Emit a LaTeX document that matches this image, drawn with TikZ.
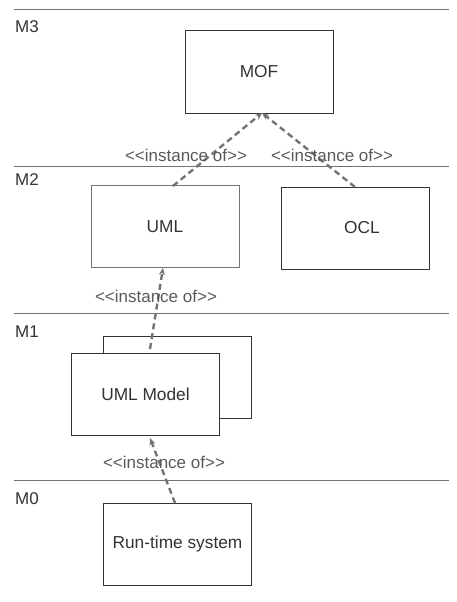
\documentclass[tikz,border=0pt]{standalone}
\usepackage{fontspec}
\setmainfont{Liberation Sans}[Ligatures=TeXOff]
\usetikzlibrary{arrows.meta}
\begin{document}
\begin{tikzpicture}[x=1pt,y=-1pt,
  box/.style={draw=black!80,line width=1pt,minimum width=148pt,minimum height=82pt,inner sep=0pt,text=black!80,font=\fontsize{17.3}{19}\selectfont},
  lightbox/.style={box,draw=black!55},
  inst/.style={draw=black!55,line width=2.4pt,dash pattern=on 6pt off 4pt,-{Stealth[length=7pt,width=6pt]}},
  sep/.style={draw=black!55,line width=0.8pt},
  lvl/.style={anchor=west,text=black!80,font=\fontsize{17}{19}\selectfont,inner sep=0pt},
  lab/.style={text=black!65,font=\fontsize{17}{19}\selectfont,inner sep=1pt}]
\useasboundingbox (0,0) rectangle (456,602);
% separators
\coordinate (l3a) at (14,9);   \coordinate (l3b) at (449,9);
\coordinate (l2a) at (14,166); \coordinate (l2b) at (449,166);
\coordinate (l1a) at (14,313); \coordinate (l1b) at (449,313);
\coordinate (l0a) at (14,480); \coordinate (l0b) at (449,480);
\draw[sep] (l3a) -- (l3b);
\draw[sep] (l2a) -- (l2b);
\draw[sep] (l1a) -- (l1b);
\draw[sep] (l0a) -- (l0b);
% level labels
\node[lvl] (m3) at (15,27) {M3};
\node[lvl] (m2) at (15,180) {M2};
\node[lvl] (m1) at (15,332) {M1};
\node[lvl] (m0) at (15,499) {M0};
% boxes
\node[box] (mof) at (259,72) {MOF};
\node[lightbox] (uml) at (165,226.5) {UML};
\node[box,text width=148pt,align=center] (ocl) at (355,228) {\hspace*{14pt}OCL};
\node[box,fill=white] (umlback) at (177.5,377.5) {};
\node[box,fill=white] (umlmodel) at (145.5,394.5) {UML Model};
\node[box] (rts) at (177.5,544.5) {Run-time system};
% connector points
\coordinate (mofb) at (262,113);
\coordinate (umlt) at (173,186);
\coordinate (oclt) at (355,187);
\coordinate (umlb) at (163,268);
\coordinate (umst) at (150,349);
\coordinate (umsb) at (150,438);
\coordinate (rtst) at (175,503);
\draw[inst] (umlt) -- (mofb);
\draw[inst] (oclt) -- (mofb);
\draw[inst] (umst) -- (umlb);
\draw[inst] (rtst) -- (umsb);
% labels
\node[lab] (i1) at (186,155) {<<instance of>>};
\node[lab] (i2) at (332,155) {<<instance of>>};
\node[lab] (i3) at (156,296) {<<instance of>>};
\node[lab] (i4) at (164,462) {<<instance of>>};
\end{tikzpicture}
\end{document}
